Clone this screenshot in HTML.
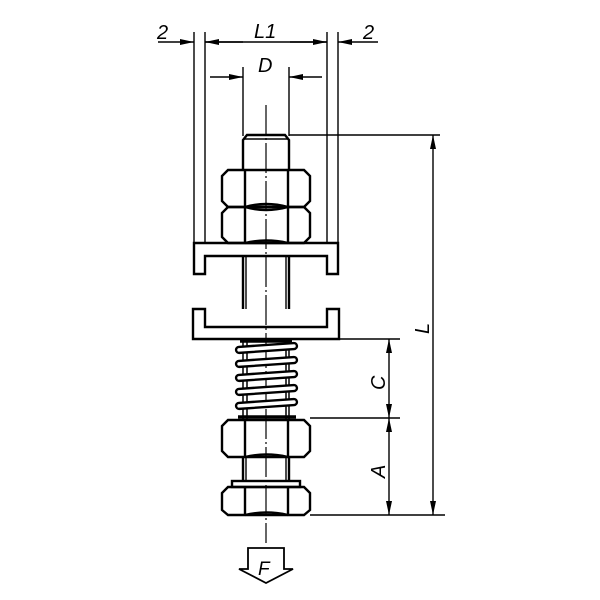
<!DOCTYPE html>
<html><head><meta charset="utf-8"><style>body{margin:0;background:#fff}svg{display:block}</style></head><body>
<svg width="600" height="600" viewBox="0 0 600 600" xmlns="http://www.w3.org/2000/svg" font-family="Liberation Sans, sans-serif" font-style="italic">
<defs>
<marker id="a" markerWidth="14" markerHeight="6" refX="14" refY="3" orient="auto" markerUnits="userSpaceOnUse"><path d="M0,0L14,3L0,6z" fill="#000"/></marker>
</defs>
<g stroke="#000" fill="none" stroke-width="1.4">
<line x1="194" y1="32" x2="194" y2="243"/><line x1="205" y1="32" x2="205" y2="243"/>
<line x1="327" y1="32" x2="327" y2="243"/><line x1="338" y1="32" x2="338" y2="243"/>
<line x1="243" y1="67" x2="243" y2="136"/><line x1="289" y1="67" x2="289" y2="136"/>
<line x1="158" y1="42" x2="194" y2="42" marker-end="url(#a)"/>
<line x1="243" y1="42" x2="205" y2="42" marker-end="url(#a)"/>
<line x1="290" y1="42" x2="327" y2="42" marker-end="url(#a)"/>
<line x1="378" y1="42" x2="338" y2="42" marker-end="url(#a)"/>
<line x1="205" y1="42" x2="327" y2="42"/>
<line x1="210" y1="77" x2="243" y2="77" marker-end="url(#a)"/>
<line x1="322" y1="77" x2="289" y2="77" marker-end="url(#a)"/>
<line x1="266" y1="105" x2="266" y2="543" stroke-dasharray="30,3,2,3" stroke-width="1.2"/>
<line x1="289" y1="135" x2="440" y2="135"/>
<path d="M243,170V140L247,135H285L289,140V170" stroke-width="2.4"/>
<line x1="244" y1="139" x2="288" y2="139"/>
<g stroke-width="2.4">
<path d="M228,170H304L310,176V201L304,207H228L222,201V176Z"/>
<path d="M228,207H304L310,213V237L304,243H228L222,237V213Z"/>
<path d="M245,170V243M288,170V243"/>
<path d="M245,207Q266,201 288,207M245,207Q266,213 288,207"/>
<path d="M245,243Q266,238 288,243"/>
<path d="M194,243H338V274H327V256H205V274H194Z"/>
<path d="M243,256V309M289,256V309"/>
<path d="M193,309H205V327H327V309H339V339H193Z"/>
<path d="M228,420H304L310,426V451L304,457H228L222,451V426Z"/>
<path d="M245,420V457M288,420V457"/>
<path d="M245,457Q266,452 288,457"/>
<path d="M243,457V481M289,457V481"/>
<rect x="232" y="481" width="68" height="6"/>
<path d="M228,487H304L310,493V510L304,515H228L222,510V493Z"/>
<path d="M245,487V515M288,487V515"/>
<path d="M245,515Q266,510 288,515"/>
</g>
<path d="M246,256V309M286,256V309M246,457V481M286,457V481"/>
<path d="M243,339V420M289,339V420M247,339V420M286,339V420" stroke-width="1.5"/>
<g stroke-width="2.4" fill="#fff">
<rect x="236" y="345" width="61" height="6" rx="3" transform="rotate(-4 266 348)"/>
<rect x="236" y="359" width="61" height="6" rx="3" transform="rotate(-4 266 362)"/>
<rect x="236" y="373" width="61" height="6" rx="3" transform="rotate(-4 266 376)"/>
<rect x="236" y="387" width="61" height="6" rx="3" transform="rotate(-4 266 390)"/>
<rect x="236" y="401" width="61" height="6" rx="3" transform="rotate(-4 266 404)"/>
</g>
<path d="M240,341H292M238,417H296" stroke-width="3.5"/>
<line x1="339" y1="339" x2="400" y2="339"/>
<line x1="310" y1="418" x2="400" y2="418"/>
<line x1="310" y1="515" x2="445" y2="515"/>
<line x1="389" y1="378" x2="389" y2="339" marker-end="url(#a)"/>
<line x1="389" y1="378" x2="389" y2="418" marker-end="url(#a)"/>
<line x1="389" y1="466" x2="389" y2="418" marker-end="url(#a)"/>
<line x1="389" y1="466" x2="389" y2="515" marker-end="url(#a)"/>
<line x1="433" y1="325" x2="433" y2="135" marker-end="url(#a)"/>
<line x1="433" y1="325" x2="433" y2="515" marker-end="url(#a)"/>
<path d="M248,548H284V569H293L266,583L239,569H248Z" stroke-width="1.8"/>
</g>
<g font-size="20" fill="#000">
<text x="157" y="39">2</text>
<text x="254" y="38">L1</text>
<text x="363" y="39">2</text>
<text x="258" y="72">D</text>
<text x="258" y="575" font-size="19">F</text>
<text transform="translate(385,390) rotate(-90)">C</text>
<text transform="translate(385,478) rotate(-90)">A</text>
<text transform="translate(429,334) rotate(-90)">L</text>
</g>
</svg>
</body></html>
